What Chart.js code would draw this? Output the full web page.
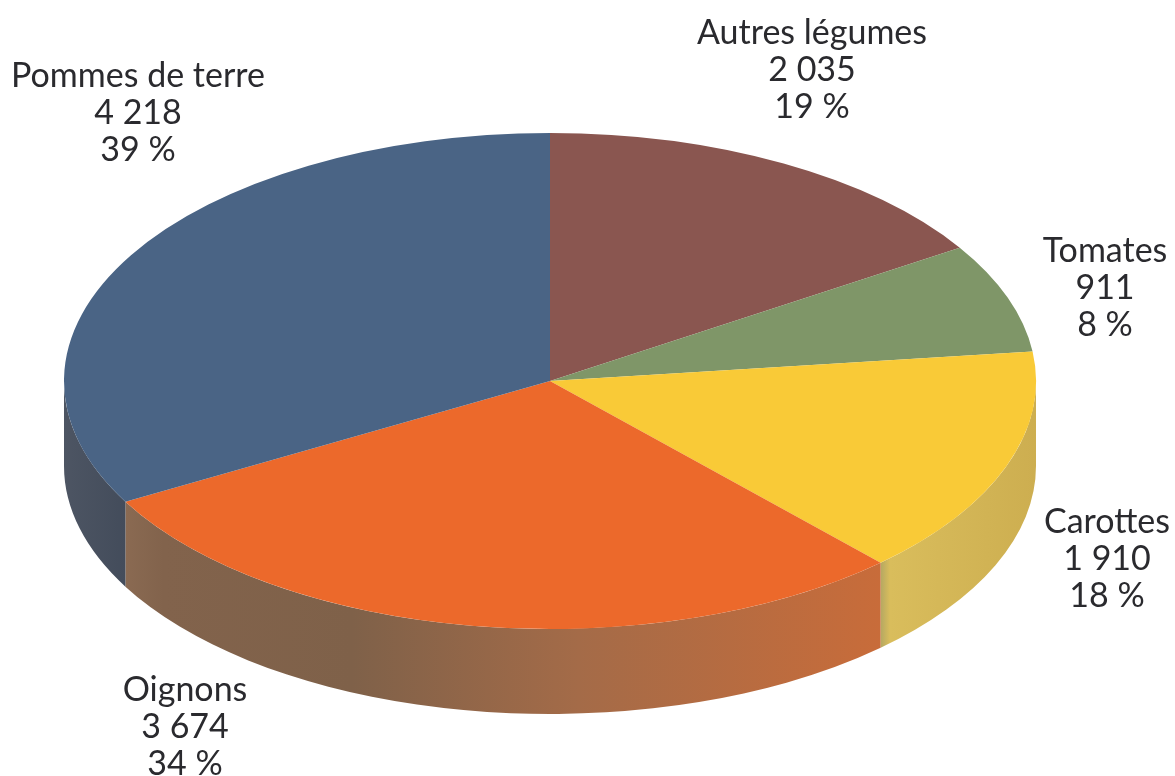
<!DOCTYPE html>
<html lang="fr">
<head>
<meta charset="utf-8">
<title>Légumes</title>
<script src="https://cdn.jsdelivr.net/npm/chart.js@4/dist/chart.umd.min.js"></script>
<style>
html,body{margin:0;padding:0;background:#fff;overflow:hidden}
#wrap{position:relative;width:1175px;height:776px}
</style>
</head>
<body>
<div id="wrap"><canvas id="c" width="1175" height="776"></canvas></div>
<script>
const categories = ["Autres légumes", "Tomates", "Carottes", "Oignons", "Pommes de terre"];
const values = [2035, 911, 1910, 3674, 4218];
const valueLabels = ["2 035", "911", "1 910", "3 674", "4 218"];
const percentLabels = ["19 %", "8 %", "18 %", "34 %", "39 %"];
const topColors = ["#8a5650", "#7f9668", "#f9ca37", "#ec692b", "#4a6485"];

// Style and layout of the tilted disc and its captions
const wallStops = [
  [[0, "#8a5650"], [1, "#8a5650"]],
  [[0, "#7f9668"], [1, "#7f9668"]],
  [[0, "#b5a862"], [0.06, "#d9bd5c"], [1, "#cdae50"]],
  [[0, "#8a6a52"], [0.05, "#82634c"], [0.3, "#7f6149"], [0.6, "#a46b48"], [1, "#c86c3a"]],
  [[0, "#4d5563"], [1, "#434c5b"]]
];
const disc = {cx: 550, cy: 381, rx: 486, ry: 248, depth: 85};
const captionCenters = [[812, 44], [1105, 262], [1107, 533], [185, 701], [138, 87]];
const lineStep = 37;

const tilt3d = {
  id: "tilt3d",
  beforeDatasetsDraw(chart) {
    const ctx = chart.ctx;
    const arcs = chart.getDatasetMeta(0).data;
    ctx.save();
    arcs.forEach((arc, i) => {
      const a0 = Math.max(arc.startAngle, 0);
      const a1 = Math.min(arc.endAngle, Math.PI);
      if (a1 <= a0) return;
      const x0 = disc.cx + disc.rx * Math.cos(a1);
      const x1 = disc.cx + disc.rx * Math.cos(a0);
      const g = ctx.createLinearGradient(x0, 0, x1, 0);
      wallStops[i].forEach(s => g.addColorStop(s[0], s[1]));
      ctx.beginPath();
      ctx.ellipse(disc.cx, disc.cy, disc.rx, disc.ry, 0, a0, a1);
      ctx.ellipse(disc.cx, disc.cy + disc.depth, disc.rx, disc.ry, 0, a1, a0, true);
      ctx.closePath();
      ctx.fillStyle = g;
      ctx.fill();
    });
    ctx.restore();
    const a = arcs[0];
    const R = a.outerRadius;
    ctx.save();
    ctx.translate(disc.cx, disc.cy);
    ctx.scale(disc.rx / R, disc.ry / R);
    ctx.translate(-a.x, -a.y);
  },
  afterDatasetsDraw(chart) {
    chart.ctx.restore();
    const ctx = chart.ctx;
    ctx.save();
    ctx.fillStyle = "#2a2a2e";
    ctx.font = "34px Lato, sans-serif";
    ctx.textAlign = "center";
    ctx.textBaseline = "alphabetic";
    categories.forEach((name, i) => {
      const [x, y] = captionCenters[i];
      ctx.fillText(name, x, y);
      ctx.fillText(valueLabels[i], x, y + lineStep);
      ctx.fillText(percentLabels[i], x, y + 2 * lineStep);
    });
    ctx.restore();
  }
};

new Chart(document.getElementById("c"), {
  type: "pie",
  data: {
    labels: categories,
    datasets: [{data: values, backgroundColor: topColors, borderWidth: 0}]
  },
  options: {
    responsive: false,
    animation: false,
    rotation: 0,
    layout: {padding: 0},
    plugins: {legend: {display: false}, tooltip: {enabled: false}}
  },
  plugins: [tilt3d]
});
</script>
</body>
</html>
